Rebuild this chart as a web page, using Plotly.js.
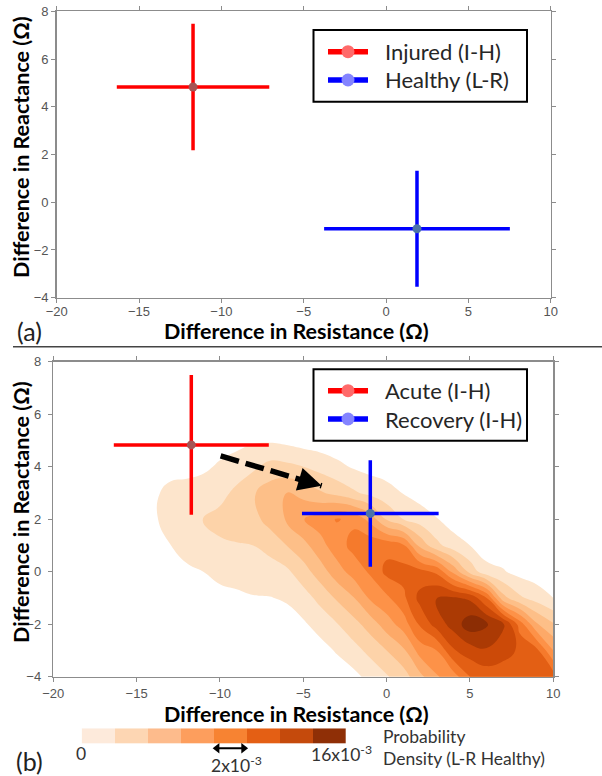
<!DOCTYPE html>
<html>
<head>
<meta charset="utf-8">
<script src="https://cdn.plot.ly/plotly-3.0.1.min.js"></script>
<style>
html,body{margin:0;padding:0;background:#ffffff;}
#chart{width:602px;height:776px;}
</style>
</head>
<body>
<div id="chart"></div>
<script>
// ---------------- DATA ----------------
// Panel (a) cross markers: centre and half-widths (Ohm)
const seriesA = ['Injured (I-H)', 'Healthy (L-R)'];
const aResistance = [-11.72, 1.88];
const aReactance = [4.83, -1.11];
const aResistanceErr = [4.63, 5.64];
const aReactanceErr = [2.65, 2.43];

// Panel (b) cross markers
const seriesB = ['Acute (I-H)', 'Recovery (I-H)'];
const bResistance = [-11.72, -0.98];
const bReactance = [4.83, 2.22];
const bResistanceErr = [4.65, 4.10];
const bReactanceErr = [2.66, 2.03];

// Arrow (acute -> recovery) in panel (b): tail, tip
const arrowResistance = [-9.96, -3.9];
const arrowReactance = [4.41, 3.27];

// Probability density of L-R healthy (units of 1e-3)
const gridResistance = [-20,-19,-18,-17,-16,-15,-14,-13,-12,-11,-10,-9,-8,-7,-6,-5,-4,-3,-2,-1,0,1,2,3,4,5,6,7,8,9,10];
const gridReactance = [-4,-3,-2,-1,0,1,2,3,4,5,6,7,8];
const density = [
  [0,0,0,0,0,0,0,0,0,0,0,0.05,0.1,0.1,0.15,0.25,0.45,0.7,1.08,1.93,2.85,3.83,5.55,7.35,8.25,10.5,11.1,10.9,11.2,11.0,11.3],
  [0,0,0,0,0,0,0,0.05,0.1,0.1,0.15,0.2,0.25,0.3,0.4,0.6,0.95,1.63,2.43,3.42,4.5,5.7,8.14,9.0,11.83,12.75,13.33,12.75,11.7,10.9,7.5],
  [0,0,0,0,0,0,0.05,0.1,0.2,0.35,0.45,0.55,0.7,0.8,0.95,1.3,2.04,2.9,3.95,5.16,6.75,8.2,10.73,12.67,14.1,15.9,15.2,13.7,9.8,6.17,4.65],
  [0,0,0,0,0,0.05,0.1,0.3,0.5,0.8,1.0,1.2,1.4,1.45,1.65,2.36,3.43,4.69,5.9,7.7,8.7,10.1,12.5,13.6,13.7,13.2,10.5,5.0,3.25,2.4,1.5],
  [0,0,0,0,0.05,0.1,0.3,0.7,1.2,1.5,1.95,2.1,2.3,2.35,2.7,3.86,5.25,6.8,8.1,9.2,10.9,11.1,11.0,10.2,7.1,4.0,2.0,1.62,1.0,0.65,0.5],
  [0,0,0,0.05,0.15,0.3,0.7,1.45,2.1,2.6,2.8,2.9,3.0,3.5,4.5,5.5,6.94,8.3,9.45,10.1,10.0,9.25,5.6,3.43,2.2,1.5,0.7,0.6,0.35,0.2,0.15],
  [0,0,0,0.1,0.25,0.55,1.2,2.25,2.7,3.05,3.4,3.7,4.0,5.1,6.15,7.45,8.2,9.1,8.7,7.0,4.33,3.0,2.29,1.58,0.8,0.55,0.25,0.2,0.1,0.05,0.05],
  [0,0,0,0.1,0.25,0.55,1.2,1.95,2.2,2.6,2.6,3.3,4.35,5.3,6.0,5.5,4.7,4.04,3.27,2.56,2.05,1.45,0.9,0.6,0.3,0.2,0.1,0.05,0,0,0],
  [0,0,0,0.05,0.1,0.3,0.6,0.9,0.9,1.1,1.8,2.3,2.7,3.5,3.35,3.0,2.46,1.9,1.35,1.0,0.8,0.55,0.3,0.2,0.1,0.05,0,0,0,0,0],
  [0,0,0,0,0.05,0.1,0.2,0.4,0.35,0.45,0.6,0.95,1.3,1.3,1.1,0.8,0.7,0.5,0.4,0.3,0.25,0.15,0.1,0.05,0,0,0,0,0,0,0],
  [0,0,0,0,0,0,0.05,0.1,0.1,0.15,0.2,0.3,0.45,0.5,0.4,0.3,0.25,0.15,0.1,0.1,0.05,0.05,0,0,0,0,0,0,0,0,0],
  [0,0,0,0,0,0,0,0,0,0.05,0.05,0.1,0.15,0.15,0.1,0.1,0.1,0.05,0,0,0,0,0,0,0,0,0,0,0,0,0],
  [0,0,0,0,0,0,0,0,0,0,0,0,0,0.05,0.05,0,0,0,0,0,0,0,0,0,0,0,0,0,0,0,0]
];
const densityLevels = {start: 1.5, end: 15, size: 1.5};

// Colour bar bins (units of 1e-3) and the 2x10^-3 scale marker (in bin index units)
const colorbarBins = [0, 2, 4, 6, 8, 10, 12, 14];
const scaleMarkX = [3.6, 4.4];
const scaleMarkY = [-0.83, -0.83];

const xTicks = [-20, -15, -10, -5, 0, 5, 10];
const yTicks = [-4, -2, 0, 2, 4, 6, 8];

// ---------------- STYLE ----------------
const W = 602, H = 776;
const px = v => v / W;
const py = v => 1 - v / H;

const contourColors = ['#ffffff','#fde5cc','#fdd3a9','#fdbf88','#fda968','#fd9248','#f57a2c','#e35f14','#cc4a08','#ab3a04','#8c2d04'];
const barColors = ['#fdeadb','#fdd6b3','#fdbb8c','#fd9e5d','#f78332','#e45f14','#c54a0c','#8f2f06'];
const lineColors = ['#ff0000', '#0000ff'];
const dotColors = ['#a65454', '#4d74a8'];
const legendDot = ['#ff6a6a', '#8484ff'];

const tickFont = {family: 'Liberation Sans, Arial, sans-serif', size: 13, color: '#555555'};
const titleFont = {family: 'Lato, sans-serif', size: 21.5, color: '#000000', weight: 'bold'};
const textFont = {family: 'Lato, sans-serif', size: 22, color: '#262626'};
const smallFont = {family: 'Lato, sans-serif', size: 17.5, color: '#333333'};
const panelFont = {family: 'Lato, sans-serif', size: 25, color: '#222222'};

function crossTrace(xs, ys, xe, ye, i, xa, ya, name) {
  return {
    type: 'scatter', mode: 'markers', name: name,
    x: [xs[i]], y: [ys[i]], xaxis: xa, yaxis: ya,
    marker: {size: 9, color: dotColors[i]},
    error_x: {type: 'data', array: [xe[i]], color: lineColors[i], thickness: 3.5, width: 0},
    error_y: {type: 'data', array: [ye[i]], color: lineColors[i], thickness: 3.5, width: 0},
    showlegend: false, hoverinfo: 'x+y+name'
  };
}

const cscale = contourColors.map((c, i) => [i / (contourColors.length - 1), c]);
const bscale = barColors.map((c, i) => [i / (barColors.length - 1), c]);

const traces = [
  crossTrace(aResistance, aReactance, aResistanceErr, aReactanceErr, 0, 'x', 'y', seriesA[0]),
  crossTrace(aResistance, aReactance, aResistanceErr, aReactanceErr, 1, 'x', 'y', seriesA[1]),
  {
    type: 'contour', x: gridResistance, y: gridReactance, z: density,
    xaxis: 'x2', yaxis: 'y2',
    autocontour: false,
    contours: {start: densityLevels.start, end: densityLevels.end, size: densityLevels.size, coloring: 'fill', showlines: false},
    line: {width: 0, smoothing: 1.3},
    colorscale: cscale, showscale: false, hoverinfo: 'skip'
  },
  {
    type: 'scatter', mode: 'lines', x: arrowResistance, y: arrowReactance,
    xaxis: 'x2', yaxis: 'y2',
    line: {color: '#000000', width: 5.5, dash: '19px,7px'},
    showlegend: false, hoverinfo: 'skip'
  },
  crossTrace(bResistance, bReactance, bResistanceErr, bReactanceErr, 0, 'x2', 'y2', seriesB[0]),
  crossTrace(bResistance, bReactance, bResistanceErr, bReactanceErr, 1, 'x2', 'y2', seriesB[1]),
  {
    type: 'heatmap', z: [colorbarBins], x: colorbarBins.map((_, i) => i), y: [0],
    xaxis: 'x3', yaxis: 'y3', zmin: colorbarBins[0], zmax: colorbarBins[colorbarBins.length - 1],
    colorscale: bscale, showscale: false, hoverinfo: 'skip'
  },
  {
    type: 'scatter', mode: 'lines+markers', x: scaleMarkX, y: scaleMarkY,
    xaxis: 'x3', yaxis: 'y3', cliponaxis: false,
    line: {color: '#000000', width: 2},
    marker: {symbol: ['triangle-left', 'triangle-right'], size: 9, color: '#000000', line: {width: 0}},
    showlegend: false, hoverinfo: 'skip'
  }
];

function axisX(domain, anchor, standoff) {
  return {
    domain: domain, anchor: anchor, range: [-20, 10], tickmode: 'array', tickvals: xTicks,
    showline: true, mirror: 'ticks', linecolor: '#8c8c8c', linewidth: 1.5,
    ticks: 'outside', ticklen: 4, tickwidth: 1, tickcolor: '#8c8c8c',
    showgrid: false, zeroline: false, tickfont: tickFont, ticklabelstandoff: standoff, fixedrange: true
  };
}
function axisY(domain, anchor, standoff) {
  return {
    domain: domain, anchor: anchor, range: [-4, 8], tickmode: 'array', tickvals: yTicks,
    showline: true, mirror: 'ticks', linecolor: '#8c8c8c', linewidth: 1.5,
    ticks: 'outside', ticklen: 4, tickwidth: 1, tickcolor: '#8c8c8c',
    showgrid: false, zeroline: false, tickfont: tickFont, ticklabelstandoff: standoff, fixedrange: true
  };
}

const shapes = [
  {type: 'line', xref: 'paper', yref: 'paper', x0: px(13), x1: px(602), y0: py(346.7), y1: py(346.7), line: {color: '#444444', width: 1.5}}
];
const annotations = [];

function ann(text, x, y, font, xanchor, extra) {
  annotations.push(Object.assign({text: text, xref: 'paper', yref: 'paper', x: px(x), y: py(y),
    xanchor: xanchor || 'center', yanchor: 'middle', showarrow: false, font: font}, extra || {}));
}

// Legends
function legend(top, bottom, rows, names) {
  shapes.push({type: 'rect', xref: 'paper', yref: 'paper', x0: px(313.5), x1: px(527), y0: py(bottom), y1: py(top),
    line: {color: '#000000', width: 2}, fillcolor: '#ffffff'});
  rows.forEach((yc, i) => {
    shapes.push({type: 'line', xref: 'paper', yref: 'paper', x0: px(328), x1: px(368), y0: py(yc), y1: py(yc),
      line: {color: lineColors[i], width: 5.5}});
    shapes.push({type: 'circle', xref: 'paper', yref: 'paper', x0: px(341.5), x1: px(354.5), y0: py(yc + 6.5), y1: py(yc - 6.5),
      fillcolor: legendDot[i], line: {width: 0}});
    ann(names[i], 383, yc, textFont, 'left');
  });
}
legend(30, 101.7, [51.7, 80], seriesA);
legend(369.3, 440.7, [390.7, 419], seriesB);

// Arrow head of the dashed arrow (data coordinates)
annotations.push({text: '', xref: 'x2', yref: 'y2', axref: 'x2', ayref: 'y2',
  x: arrowResistance[1], y: arrowReactance[1], ax: -5.2, ay: 3.515,
  showarrow: true, arrowhead: 2, arrowsize: 0.85, arrowwidth: 5.5, arrowcolor: '#000000', standoff: 0});

// Axis titles and panel labels
ann('Difference in Resistance (Ω)', 296, 331, titleFont);
ann('Difference in Reactance (Ω)', 21, 147, titleFont, 'center', {textangle: -90});
ann('Difference in Resistance (Ω)', 296, 714, titleFont);
ann('Difference in Reactance (Ω)', 21, 512, titleFont, 'center', {textangle: -90});
ann('(a)', 29, 331, panelFont);
ann('(b)', 29, 761, panelFont);

// Colour bar labels
ann('0', 81, 753, smallFont);
ann('2x10<sup>-3</sup>', 236, 764, smallFont);
ann('16x10<sup>-3</sup>', 374, 753, smallFont, 'right');
ann('Probability', 381, 736, smallFont, 'left');
ann('Density (L-R Healthy)', 381, 758, smallFont, 'left');

const layout = {
  width: W, height: H, margin: {l: 0, r: 0, t: 0, b: 0},
  paper_bgcolor: '#ffffff', plot_bgcolor: 'rgba(0,0,0,0)', showlegend: false,
  xaxis: axisX([px(56.7), px(550.7)], 'y', -3),
  yaxis: axisY([py(297.7), py(11.3)], 'x', 0),
  xaxis2: axisX([px(53.3), px(553.3)], 'y2', 0),
  yaxis2: axisY([py(676.7), py(361.7)], 'x2', 4),
  xaxis3: {domain: [px(81.7), px(346)], anchor: 'y3', range: [-0.5, 7.5], visible: false, fixedrange: true},
  yaxis3: {domain: [py(752), py(728.3)], anchor: 'x3', range: [-1.08, 0.5], visible: false, fixedrange: true},
  shapes: shapes, annotations: annotations
};

Plotly.newPlot('chart', traces, layout, {displayModeBar: false, staticPlot: true});
</script>
</body>
</html>
